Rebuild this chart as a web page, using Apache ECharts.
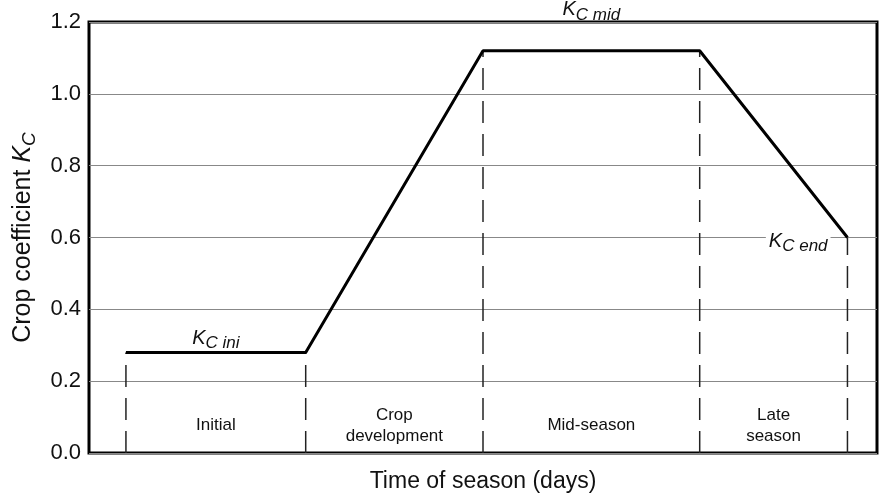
<!DOCTYPE html>
<html>
<head>
<meta charset="utf-8">
<script src="https://cdn.jsdelivr.net/npm/echarts@6/dist/echarts.min.js"></script>
<style>
  html, body { margin: 0; padding: 0; background: #fff; }
  #chart { width: 880px; height: 498px; }
</style>
</head>
<body>
<div id="chart"></div>
<script>
// stage boundaries (days) and Kc at each boundary
const stageDays = [7.5, 44, 80, 124, 154]
const kcValues = [0.28, 0.28, 1.12, 1.12, 0.6]
const stageNames = ['Initial', 'Crop\ndevelopment', 'Mid-season', 'Late\nseason']
const kcLabels = ['ini', 'mid', 'end']
const kcLabelPos = [[25.75, 0.32], [102, 1.235], [144, 0.59]]
const stageLabelY = 0.077

const font = 'Liberation Sans, Arial, sans-serif'

const chart = echarts.init(document.getElementById('chart'))

const kcRich = {
  k: { fontSize: 20, fontStyle: 'italic', fontFamily: font, color: '#111', lineHeight: 28 },
  s: { fontSize: 17, fontStyle: 'italic', fontFamily: font, color: '#111', lineHeight: 16, verticalAlign: 'bottom' }
}

const dashSeries = stageDays.map((d, i) => ({
  type: 'line',
  data: [[d, 0], [d, kcValues[i]]],
  symbol: 'none',
  silent: true,
  lineStyle: { color: '#222', width: 1.5, type: [22, 11] },
  z: 2
}))

const option = {
  backgroundColor: '#fff',
  animation: false,
  grid: {
    left: 89,
    right: 3,
    top: 22,
    bottom: 45,
    outerBoundsMode: 'none',
    containLabel: false,
    show: true,
    borderColor: '#000',
    borderWidth: 3
  },
  xAxis: {
    type: 'value',
    min: 0,
    max: 160,
    name: 'Time of season (days)',
    nameLocation: 'middle',
    nameGap: 17,
    nameTextStyle: { fontSize: 23, color: '#111', fontFamily: font },
    axisLine: { show: false },
    axisTick: { show: false },
    axisLabel: { show: false },
    splitLine: { show: false }
  },
  yAxis: {
    type: 'value',
    min: 0,
    max: 1.2,
    interval: 0.2,
    name: 'Crop coefficient {k|K}{s|C}',
    nameLocation: 'middle',
    nameGap: 50,
    nameRotate: 90,
    nameTextStyle: {
      fontSize: 25,
      color: '#111',
      fontFamily: font,
      rich: {
        k: { fontSize: 25, fontStyle: 'italic', fontFamily: font, color: '#111', lineHeight: 32 },
        s: { fontSize: 19, fontStyle: 'italic', fontFamily: font, color: '#111', lineHeight: 16, verticalAlign: 'bottom' }
      }
    },
    axisLine: { show: false },
    axisTick: { show: false },
    axisLabel: {
      fontSize: 22,
      color: '#111',
      fontFamily: font,
      margin: 8,
      formatter: v => v.toFixed(1)
    },
    splitLine: { lineStyle: { color: '#888', width: 1 } }
  },
  series: [
    {
      type: 'line',
      data: stageDays.map((d, i) => [d, kcValues[i]]),
      symbol: 'none',
      lineStyle: { color: '#000', width: 3 },
      z: 3
    },
    ...dashSeries,
    {
      type: 'scatter',
      symbolSize: 1,
      itemStyle: { color: 'transparent', opacity: 1 },
      clip: false,
      silent: true,
      data: stageNames.map((n, i) => ({
        value: [(stageDays[i] + stageDays[i + 1]) / 2, stageLabelY],
        name: n
      })),
      label: {
        show: true,
        position: 'inside',
        formatter: p => p.name,
        fontSize: 17,
        lineHeight: 21,
        color: '#111',
        fontFamily: font,
        align: 'center'
      },
      z: 4
    },
    {
      type: 'scatter',
      symbolSize: 1,
      itemStyle: { color: 'transparent', opacity: 1 },
      clip: false,
      silent: true,
      data: kcLabels.map((n, i) => ({
        value: kcLabelPos[i],
        name: n,
        // only the end label sits on a gridline and masks it
        label: i === 2 ? { backgroundColor: '#fff', padding: [0, 3] } : {}
      })),
      label: {
        show: true,
        position: 'inside',
        formatter: p => '{k|K}{s|C ' + p.name + '}',
        rich: kcRich
      },
      z: 4
    }
  ]
}

chart.setOption(option)
</script>
</body>
</html>
